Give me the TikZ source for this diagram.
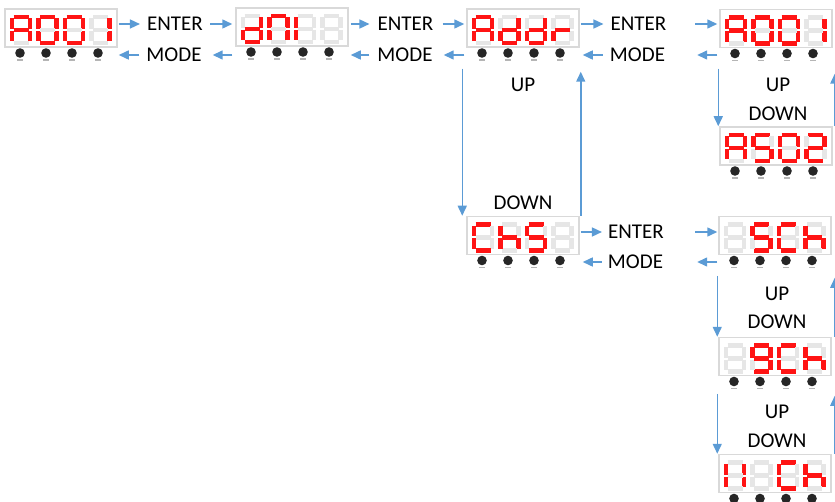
\documentclass[tikz,border=0pt]{standalone}
\usepackage{fontspec}
\setmainfont{Carlito}
\usetikzlibrary{arrows.meta}
\definecolor{arrowblue}{HTML}{5B9BD5}
\definecolor{ledred}{HTML}{FF1414}
\definecolor{ledoff}{HTML}{E6E6E6}
\definecolor{panelline}{HTML}{D9D9D9}
\definecolor{btn}{HTML}{262626}
\definecolor{btnlab}{HTML}{B5B5B5}
\makeatletter
\newcommand\oneseg[3]{\in@{#1}{#2}\ifin@\def\segcol{ledred}\else\def\segcol{ledoff}\fi
  \draw[segline, draw=\segcol] #3;}
\makeatother
\newcommand\sevseg[3]{%
  \begin{scope}[shift={(#1,#2)}]
    \oneseg{a}{#3}{(3.5,2)--(18.5,2)}
    \oneseg{b}{#3}{(20,3.5)--(20,14)}
    \oneseg{c}{#3}{(20,16)--(20,26.5)}
    \oneseg{d}{#3}{(3.5,28)--(18.5,28)}
    \oneseg{e}{#3}{(2,16)--(2,26.5)}
    \oneseg{f}{#3}{(2,3.5)--(2,14)}
    \oneseg{g}{#3}{(3.5,15)--(18.5,15)}
  \end{scope}}
\newcommand\ledpanel[7]{%
  \node[panel] (#1) at (#2,#3) {};
  \sevseg{#2-51}{#3-13}{#4}
  \sevseg{#2-24.5}{#3-13}{#5}
  \sevseg{#2+2}{#3-13}{#6}
  \sevseg{#2+28.5}{#3-13}{#7}
  \foreach \bx in {-41,-15,11,37}{%
    \fill[btn] ({#2+(\bx)},{#3+25}) circle (4.8bp);
    \fill[btnlab] ({#2+(\bx)-3},{#3+31.5}) rectangle ({#2+(\bx)+3},{#3+32.8});
  }}
\begin{document}
\begin{tikzpicture}[x=1bp,y=-1bp,
  segline/.style={line width=4.2bp, line cap=butt},
  panel/.style={draw=panelline, line width=1.5bp, fill=white, minimum width=112bp, minimum height=38bp, inner sep=0pt},
  lab/.style={inner sep=0pt, font=\fontsize{21bp}{25bp}\selectfont},
  arr/.style={draw=arrowblue, line width=1.5bp, -{Triangle[length=10bp,width=9bp]}}]
\useasboundingbox (0,0) rectangle (835,502);

% panels
\ledpanel{p1}{61}{28}{abcefg}{abcdef}{abcdef}{bc}
\ledpanel{p2}{292}{27}{bcdeg}{abcef}{ef}{}
\ledpanel{p3}{523}{28}{abcefg}{bcdeg}{bcdeg}{eg}
\ledpanel{p4}{776}{28.5}{abcefg}{abcdef}{abcdef}{bc}
\ledpanel{p5}{776}{146}{abcefg}{acdfg}{abcdef}{abdeg}
\ledpanel{p6}{523}{235.5}{adef}{cefg}{acdfg}{}
\ledpanel{p7}{775}{235.5}{}{acdfg}{adef}{cefg}
\ledpanel{p8}{775}{356.5}{}{abcdfg}{adef}{cefg}
\ledpanel{p9}{775}{473.5}{bcef}{}{adef}{cefg}

% labels
\node[lab] (e1) at (175,24) {ENTER};
\node[lab] (m1) at (174,55) {MODE};
\node[lab] (e2) at (405.5,24) {ENTER};
\node[lab] (m2) at (405,55) {MODE};
\node[lab] (e3) at (638.5,24) {ENTER};
\node[lab] (m3) at (637.5,55) {MODE};
\node[lab] (e4) at (636,232) {ENTER};
\node[lab] (m4) at (635.5,262) {MODE};
\node[lab] (u1) at (523,85) {UP};
\node[lab] (dn1) at (523,203) {DOWN};
\node[lab] (u2) at (778,85) {UP};
\node[lab] (dn2) at (778,114) {DOWN};
\node[lab] (u3) at (777,294) {UP};
\node[lab] (dn3) at (777,322) {DOWN};
\node[lab] (u4) at (777,412) {UP};
\node[lab] (dn4) at (777,441) {DOWN};

% horizontal connectors, row 1
\draw[arr, shorten <=1bp, shorten >=7bp] (p1.east |- e1.west) -- (e1.west);
\draw[arr, shorten <=7bp, shorten >=3bp] (e1.east) -- (e1.east -| p2.west);
\draw[arr, shorten <=3bp, shorten >=11bp] (m1.east -| p2.west) -- (m1.east);
\draw[arr, shorten <=7bp, shorten >=1bp] (m1.west) -- (m1.west -| p1.east);

\draw[arr, shorten <=2bp, shorten >=8bp] (p2.east |- e2.west) -- (e2.west);
\draw[arr, shorten <=9bp, shorten >=2bp] (e2.east) -- (e2.east -| p3.west);
\draw[arr, shorten <=2bp, shorten >=11bp] (m2.east -| p3.west) -- (m2.east);
\draw[arr, shorten <=8bp, shorten >=2bp] (m2.west) -- (m2.west -| p2.east);

\draw[arr, shorten <=1bp, shorten >=7bp] (p3.east |- e3.west) -- (e3.west);
\draw[arr, shorten <=28.5bp, shorten >=2bp] (e3.east) -- (e3.east -| p4.west);
\draw[arr, shorten <=2bp, shorten >=32bp] (m3.east -| p4.west) -- (m3.east);
\draw[arr, shorten <=7bp, shorten >=3bp] (m3.west) -- (m3.west -| p3.east);

% row of CHS
\draw[arr, shorten <=1bp, shorten >=6bp] (p6.east |- e4.west) -- (e4.west);
\draw[arr, shorten <=31bp, shorten >=1bp] (e4.east) -- (e4.east -| p7.west);
\draw[arr, shorten <=1bp, shorten >=34bp] (m4.east -| p7.west) -- (m4.east);
\draw[arr, shorten <=6bp, shorten >=3bp] (m4.west) -- (m4.west -| p6.east);

% vertical connectors
\draw[arr] ([xshift=-4bp,yshift=-21bp]p3.south west) -- ([xshift=-4bp]p6.north west);
\draw[arr] ([xshift=1bp]p6.north east) -- ([xshift=1bp,yshift=-24bp]p3.south east);

\draw[arr] ([xshift=-1bp,yshift=-20.5bp]p4.south west) -- ([xshift=-1bp]p5.north west);
\draw[arr] ([xshift=2bp]p5.north east) -- ([xshift=2bp,yshift=-25.5bp]p4.south east);

\draw[arr] ([xshift=-1bp,yshift=-20.5bp]p7.south west) -- ([xshift=-1bp]p8.north west);
\draw[arr] ([xshift=3bp]p8.north east) -- ([xshift=3bp,yshift=-22.5bp]p7.south east);

\draw[arr] ([xshift=-1bp,yshift=-17.5bp]p8.south west) -- ([xshift=-1bp]p9.north west);
\draw[arr] ([xshift=3bp]p9.north east) -- ([xshift=3bp,yshift=-19.5bp]p8.south east);
\end{tikzpicture}
\end{document}
